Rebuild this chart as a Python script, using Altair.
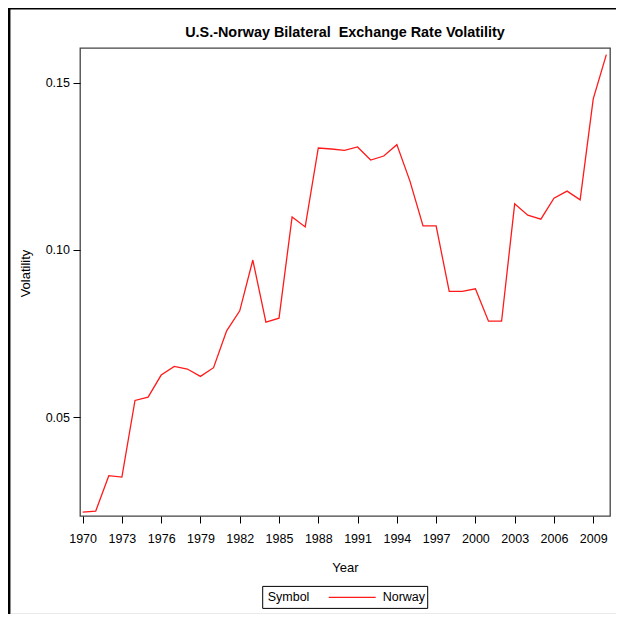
import altair as alt
import pandas as pd

years = list(range(1970, 2011))
volatility = [
    0.0216, 0.0219, 0.0325, 0.0321, 0.0550, 0.0560, 0.0626, 0.0652, 0.0644, 0.0622,
    0.0648, 0.0758, 0.0818, 0.0970, 0.0784, 0.0796, 0.1099, 0.1069, 0.1305, 0.1302,
    0.1298, 0.1308, 0.1269, 0.1281, 0.1315, 0.1206, 0.1072, 0.1072, 0.0876, 0.0876,
    0.0884, 0.0787, 0.0787, 0.1138, 0.1104, 0.1092, 0.1155, 0.1176, 0.1150, 0.1452,
    0.1584,
]
series = ["Norway"] * len(years)
x_ticks = list(range(1970, 2010, 3))
y_ticks = [0.05, 0.10, 0.15]
title_text = "U.S.-Norway Bilateral\u00a0 Exchange Rate Volatility"

df = pd.DataFrame({"Year": years, "Volatility": volatility, "Symbol": series})

FONT = "Liberation Sans, Arial, sans-serif"
RED = "#ff1a1a"
W, H = 530, 468
PAD = {"left": 72, "top": 40, "right": 6, "bottom": 98}

line = alt.Chart(df).mark_line(color=RED, strokeWidth=1.3).encode(
    x=alt.X("Year:Q",
            scale=alt.Scale(domain=[1969.8, 2010.28], nice=False, zero=False),
            axis=alt.Axis(values=x_ticks, format="d", title="Year", grid=False,
                          domain=False, tickColor="black", tickSize=7,
                          labelPadding=9, labelFontSize=12.5, labelFont=FONT,
                          labelColor="black", titleFont=FONT, titleFontSize=13,
                          titleFontWeight="normal", titleColor="black",
                          titleX=265, titleY=51.5, titleBaseline="middle",
                          titleAlign="center", labelFlush=False, labelOverlap=False)),
    y=alt.Y("Volatility:Q",
            scale=alt.Scale(domain=[0.02045, 0.1604], nice=False, zero=False),
            axis=alt.Axis(values=y_ticks, format=".2f", title="Volatility", grid=False,
                          domain=False, tickColor="black", tickSize=7,
                          labelPadding=3.5, labelFontSize=12.5, labelFont=FONT,
                          labelColor="black", titleFont=FONT, titleFontSize=13,
                          titleFontWeight="normal", titleColor="black",
                          titleX=-55, titleY=225, titleAngle=270,
                          titleBaseline="middle", titleAlign="center",
                          labelFlush=False)),
    color=alt.Color("Symbol:N", scale=alt.Scale(domain=["Norway"], range=[RED]), legend=None),
)

one = alt.Data(values=[{}])

title = alt.Chart(one).mark_text(align="center", baseline="alphabetic", font=FONT,
                                 fontSize=14.4, fontWeight="bold", color="black").encode(
    x=alt.value(265), y=alt.value(-10.6), text=alt.value(title_text))

# manual legend box
leg_x0, leg_y0 = 182.7, 538.4
legend_box = alt.Chart(one).mark_rect(fill="white", stroke="black", strokeWidth=1).encode(
    x=alt.value(leg_x0), x2=alt.value(leg_x0 + 165),
    y=alt.value(leg_y0), y2=alt.value(leg_y0 + 22),
)
legend_title = alt.Chart(one).mark_text(align="left", baseline="middle", font=FONT,
                                        fontSize=12.5, color="black").encode(
    x=alt.value(leg_x0 + 5), y=alt.value(leg_y0 + 11), text=alt.value("Symbol"))
legend_line = alt.Chart(one).mark_rule(color=RED, strokeWidth=1.3).encode(
    x=alt.value(leg_x0 + 66), x2=alt.value(leg_x0 + 113), y=alt.value(leg_y0 + 11))
legend_label = alt.Chart(one).mark_text(align="left", baseline="middle", font=FONT,
                                        fontSize=12.5, color="black").encode(
    x=alt.value(leg_x0 + 120), y=alt.value(leg_y0 + 11), text=alt.value("Norway"))

# outer image border
border_left = alt.Chart(one).mark_rule(color="black", strokeWidth=2.5).encode(
    x=alt.value(-70.8), y=alt.value(-40), y2=alt.value(566))
border_top = alt.Chart(one).mark_rule(color="black", strokeWidth=1.5).encode(
    x=alt.value(-72), x2=alt.value(536), y=alt.value(-39.3))
border_bottom = alt.Chart(one).mark_rule(color="#aaaaaa", strokeWidth=2).encode(
    x=alt.value(-70), x2=alt.value(536), y=alt.value(566.7))

chart = alt.layer(
    line, title, legend_box, legend_title, legend_line, legend_label,
    border_left, border_top, border_bottom,
).properties(
    width=W, height=H,
    autosize=alt.AutoSizeParams(type="none"),
    padding=PAD,
    background="white",
).configure_view(stroke="#444444", strokeWidth=1.3)

chart.save("out.html", embed_options={"renderer": "svg", "actions": False})
